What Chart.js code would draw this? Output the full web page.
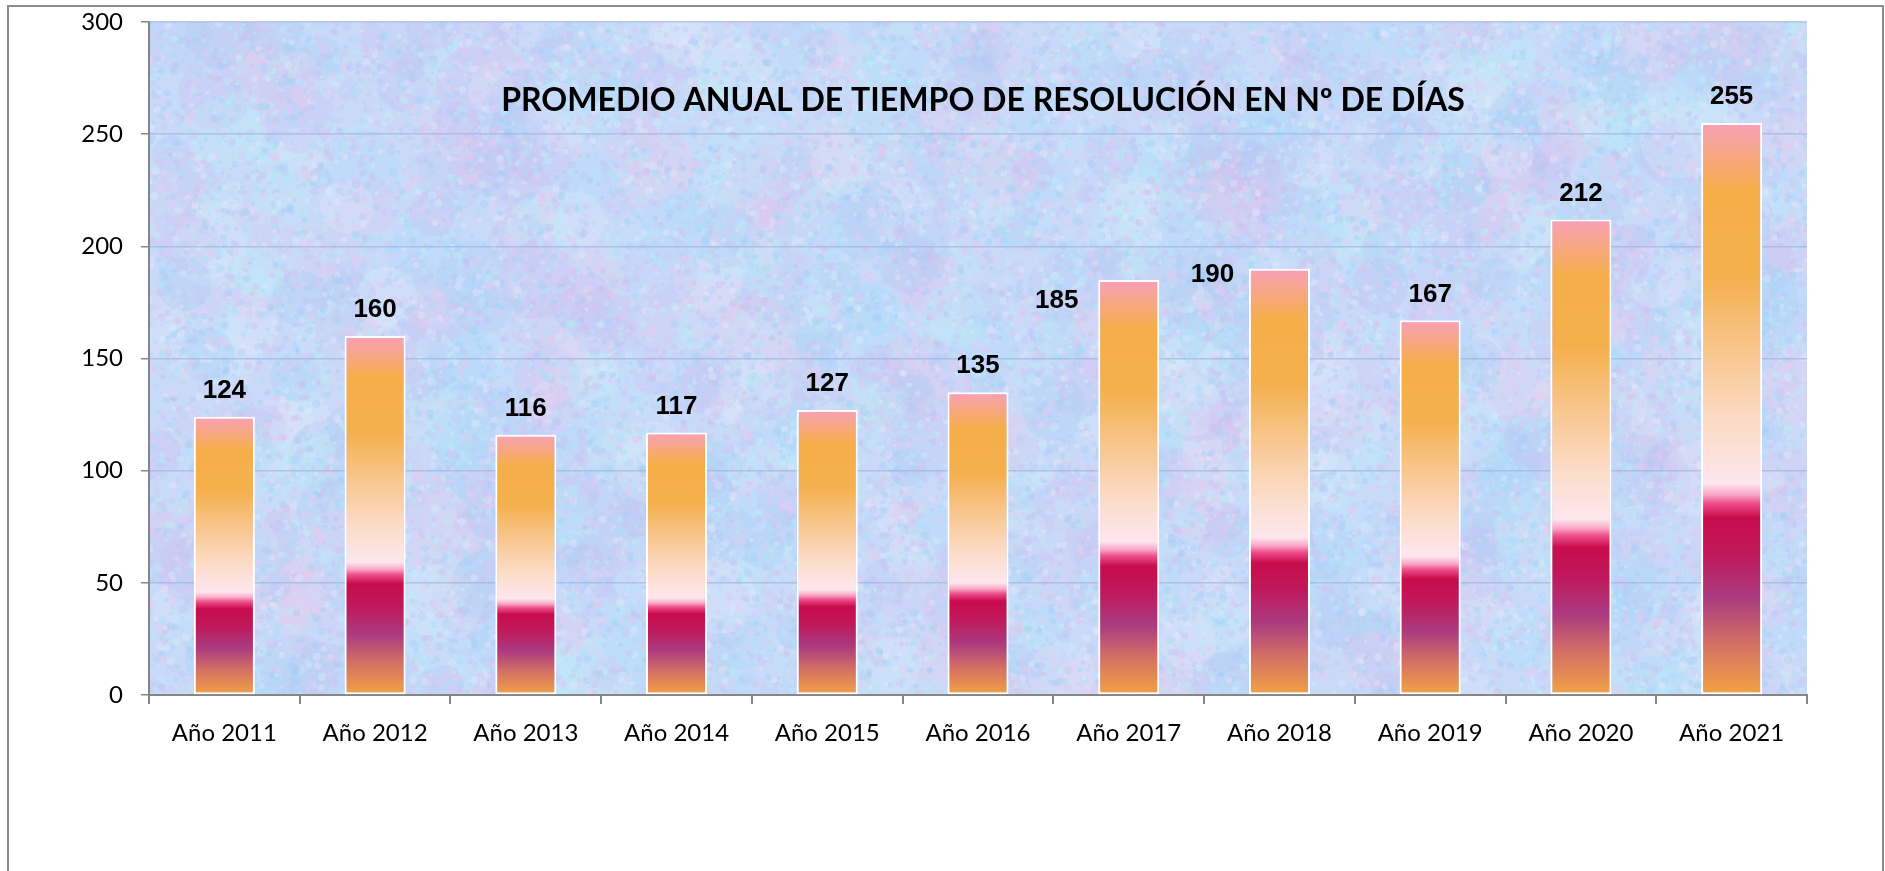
<!DOCTYPE html>
<html>
<head>
<meta charset="utf-8">
<script src="https://cdn.jsdelivr.net/npm/chart.js@4/dist/chart.umd.min.js"></script>
<style>
  html, body { margin: 0; padding: 0; background: #ffffff; overflow: hidden; }
  #wrap { position: absolute; left: 0; top: 0; width: 1885px; height: 871px; }
</style>
</head>
<body>
<div id="wrap"><canvas id="c" width="1885" height="871"></canvas></div>
<script>
// ---- data ----
const categories = ["Año 2011","Año 2012","Año 2013","Año 2014","Año 2015","Año 2016","Año 2017","Año 2018","Año 2019","Año 2020","Año 2021"];
const avgDays = [124, 160, 116, 117, 127, 135, 185, 190, 167, 212, 255];
const yTicks = [0, 50, 100, 150, 200, 250, 300];
const chartTitle = "PROMEDIO ANUAL DE TIEMPO DE RESOLUCIÓN EN Nº DE DÍAS";

const AXIS_FONT = "Lato, 'Open Sans', 'Liberation Sans', sans-serif";

// deterministic PRNG for decorative texture only
function mulberry32(a) {
  return function() {
    a |= 0; a = a + 0x6D2B79F5 | 0;
    let t = Math.imul(a ^ a >>> 15, 1 | a);
    t = t + Math.imul(t ^ t >>> 7, 61 | t) ^ t;
    return ((t ^ t >>> 14) >>> 0) / 4294967296;
  };
}

let texCache = null;
function getTexture(w, h) {
  if (texCache && texCache.width === w && texCache.height === h) return texCache;
  const off = document.createElement('canvas');
  off.width = w; off.height = h;
  const c = off.getContext('2d');
  c.fillStyle = '#c9daf8';
  c.fillRect(0, 0, w, h);
  const rnd = mulberry32(20211);
  const pal = ['#a8dcfa', '#d8c8f2', '#ecc8ee', '#b8ccf5', '#bcecf7', '#c8c0f0', '#e4eafc', '#a4ccf6', '#c0e6fb'];
  for (let i = 0; i < 1000; i++) {
    const x = rnd() * w, y = rnd() * h, r = 10 + rnd() * 30;
    c.globalAlpha = 0.28;
    c.fillStyle = pal[Math.floor(rnd() * pal.length)];
    c.beginPath(); c.arc(x, y, r, 0, Math.PI * 2); c.fill();
  }
  for (let i = 0; i < 26000; i++) {
    const x = rnd() * w, y = rnd() * h, r = 1 + rnd() * 3.2;
    c.globalAlpha = 0.38;
    c.fillStyle = pal[Math.floor(rnd() * pal.length)];
    c.beginPath(); c.arc(x, y, r, 0, Math.PI * 2); c.fill();
  }
  c.globalAlpha = 1;
  texCache = off;
  return off;
}

const bgPlugin = {
  id: 'bgPlugin',
  beforeDraw(chart) {
    const { ctx, chartArea: a } = chart;
    ctx.save();
    ctx.fillStyle = '#ffffff';
    ctx.fillRect(0, 0, chart.width, chart.height);
    const w = Math.round(a.right - a.left), h = Math.round(a.bottom - a.top);
    ctx.drawImage(getTexture(w, h), a.left, a.top);
    ctx.strokeStyle = '#8c8c8c';
    ctx.lineWidth = 2;
    ctx.strokeRect(8, 6, 1875, 900);
    ctx.restore();
  }
};

const titlePlugin = {
  id: 'titlePlugin',
  afterDatasetsDraw(chart) {
    const { ctx } = chart;
    ctx.save();
    let size = 32;
    ctx.font = `bold ${size}px ${AXIS_FONT}`;
    const w = ctx.measureText(chartTitle).width;
    size = size * 964 / w;
    ctx.font = `bold ${size}px ${AXIS_FONT}`;
    ctx.fillStyle = '#000000';
    ctx.textAlign = 'center';
    ctx.textBaseline = 'middle';
    ctx.fillText(chartTitle, 983, 101);
    ctx.restore();
  }
};

const labelShift = { 6: [-72, 47], 7: [-67, 32] };
const labelPlugin = {
  id: 'labelPlugin',
  afterDatasetsDraw(chart) {
    const { ctx } = chart;
    const meta = chart.getDatasetMeta(0);
    ctx.save();
    ctx.font = "bold 26px 'Liberation Sans', Arial, sans-serif";
    ctx.fillStyle = '#000000';
    ctx.textAlign = 'center';
    ctx.textBaseline = 'middle';
    meta.data.forEach((bar, i) => {
      const s = labelShift[i] || [0, 0];
      ctx.fillText(String(avgDays[i]), bar.x + s[0], bar.y - 26 + s[1]);
    });
    ctx.restore();
  }
};

function barFill(context) {
  const chart = context.chart;
  const a = chart.chartArea;
  if (!a || !chart.scales.y) return '#f5ae48';
  const v = context.raw;
  const top = chart.scales.y.getPixelForValue(v);
  const bottom = chart.scales.y.getPixelForValue(0);
  const g = chart.ctx.createLinearGradient(0, top, 0, bottom);
  g.addColorStop(0.00, '#f9a0b8');
  g.addColorStop(0.12, '#f5ae48');
  g.addColorStop(0.27, '#f5b04e');
  g.addColorStop(0.40, '#f8c68e');
  g.addColorStop(0.53, '#fcdcc8');
  g.addColorStop(0.63, '#fde6ee');
  g.addColorStop(0.650, '#f8a6c4');
  g.addColorStop(0.665, '#ee4f8c');
  g.addColorStop(0.69, '#c80c4c');
  g.addColorStop(0.75, '#c0185a');
  g.addColorStop(0.83, '#ab3a80');
  g.addColorStop(0.91, '#d47064');
  g.addColorStop(1.00, '#f2a344');
  return g;
}

new Chart(document.getElementById('c'), {
  type: 'bar',
  data: {
    labels: categories,
    datasets: [{
      data: avgDays,
      backgroundColor: barFill,
      borderColor: '#ffffff',
      borderWidth: 2,
      borderSkipped: false,
      categoryPercentage: 1.0,
      barPercentage: 0.405
    }]
  },
  options: {
    responsive: false,
    animation: false,
    devicePixelRatio: 1,
    layout: { padding: { left: 0, top: 22, right: 78, bottom: 0 } },
    plugins: {
      legend: { display: false },
      title: { display: false },
      tooltip: { enabled: false }
    },
    scales: {
      x: {
        grid: { display: true, drawOnChartArea: false, drawTicks: true, tickLength: 9, color: '#868686', lineWidth: 2, offset: true },
        border: { display: true, color: '#868686', width: 2 },
        ticks: { color: '#000000', font: { family: AXIS_FONT, size: 24 }, padding: 15, maxRotation: 0, autoSkip: false },
        afterFit(scale) { scale.height = 871 - 695; scale.paddingLeft = 0; scale.paddingRight = 0; }
      },
      y: {
        min: 0, max: 300,
        afterBuildTicks(scale) { scale.ticks = yTicks.map(v => ({ value: v })); },
        grid: {
          color: 'rgba(160,180,228,0.7)', lineWidth: 1.5, drawTicks: true, tickLength: 8,
          tickColor: '#868686'
        },
        border: { display: true, color: '#868686', width: 2 },
        ticks: { color: '#000000', font: { family: AXIS_FONT, size: 24 }, padding: 18 },
        afterFit(scale) { scale.width = 149; scale.paddingTop = 0; scale.paddingBottom = 0; }
      }
    }
  },
  plugins: [bgPlugin, titlePlugin, labelPlugin]
});
</script>
</body>
</html>
